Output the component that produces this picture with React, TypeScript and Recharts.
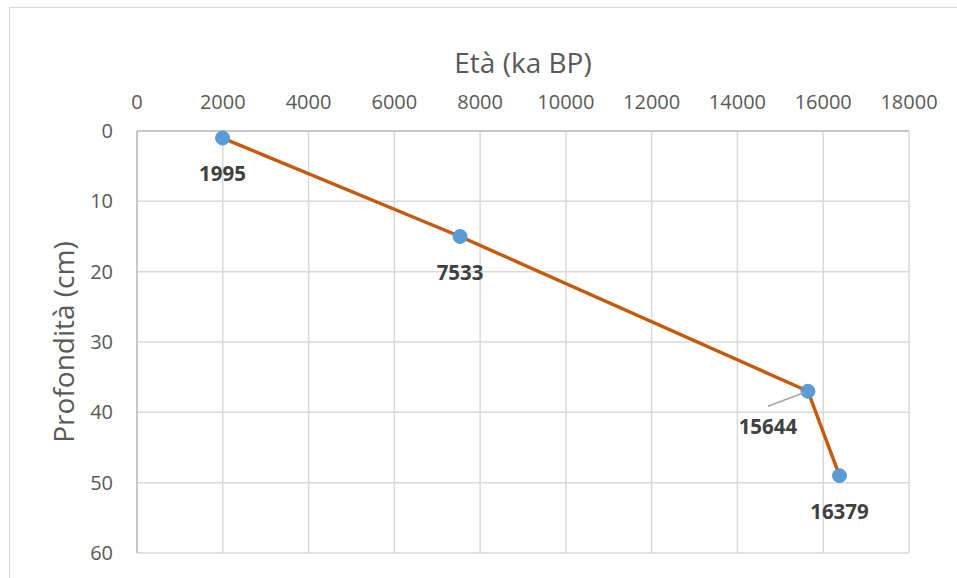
import React from 'react';
import { LineChart, Line, XAxis, YAxis, CartesianGrid, LabelList } from 'recharts';

const ages = [1995, 7533, 15644, 16379];
const depths = [1, 15, 37, 49];
const xTicks = [0, 2000, 4000, 6000, 8000, 10000, 12000, 14000, 16000, 18000];
const yTicks = [0, 10, 20, 30, 40, 50, 60];
const xTitle = 'Età (ka BP)';
const yTitle = 'Profondità (cm)';

const data = ages.map((a, i) => ({ age: a, depth: depths[i] }));

const FONT = '"Open Sans", sans-serif';

const renderLabel = (props: any) => {
  const { x, y, value, index } = props;
  if (index === 2) {
    const lx = x - 40;
    const ly = y + 35;
    return (
      <g>
        <line x1={x - 3} y1={y + 1} x2={x - 40} y2={y + 15} stroke="#A6A6A6" strokeWidth={1.5} />
        <text x={lx} y={ly} textAnchor="middle" dominantBaseline="central" fontFamily={FONT} fontSize={20.5} fontWeight={700} fill="#404040">
          {value}
        </text>
      </g>
    );
  }
  return (
    <text x={x} y={y + 35} textAnchor="middle" dominantBaseline="central" fontFamily={FONT} fontSize={20.5} fontWeight={700} fill="#404040">
      {value}
    </text>
  );
};

export default function App() {
  return (
    <div style={{ position: 'fixed', left: 0, top: 0, width: 957, height: 578, background: '#fff', overflow: 'hidden', fontFamily: FONT }}>
      <div style={{ position: 'absolute', left: 9, top: 7, width: 1000, height: 1000, borderLeft: '1px solid #D9D9D9', borderTop: '1px solid #D9D9D9' }} />
      <LineChart width={957} height={578} data={data} margin={{ top: 81, left: 77, right: 48, bottom: 25 }}>
        <CartesianGrid stroke="#D9D9D9" strokeWidth={1.5} />
        <XAxis
          xAxisId={0}
          orientation="top"
          type="number"
          dataKey="age"
          domain={[0, 18000]}
          ticks={xTicks}
          height={50}
          tickSize={0}
          tickMargin={22}
          tickLine={false}
          axisLine={{ stroke: '#BFBFBF', strokeWidth: 1.5 }}
          tick={{ fill: '#595959', fontSize: 20, fontFamily: FONT }}
          interval={0}
        />
        <YAxis
          yAxisId={0}
          type="number"
          dataKey="depth"
          domain={[0, 60]}
          ticks={yTicks}
          reversed
          width={60}
          tickSize={0}
          tickMargin={24}
          tickLine={false}
          axisLine={{ stroke: '#BFBFBF', strokeWidth: 1.5 }}
          tick={{ fill: '#595959', fontSize: 20, fontFamily: FONT }}
          interval={0}
        />
        <Line
          type="linear"
          dataKey="depth"
          stroke="#C55A11"
          strokeWidth={3.5}
          dot={{ r: 7, fill: '#5B9BD5', stroke: '#5B9BD5', strokeWidth: 1 }}
          activeDot={false}
          isAnimationActive={false}
        >
          <LabelList dataKey="age" content={renderLabel} />
        </Line>
      </LineChart>
      <div style={{ position: 'absolute', left: 323, top: 44, width: 400, textAlign: 'center', fontSize: 28, lineHeight: '36px', color: '#595959' }}>
        {xTitle}
      </div>
      <div style={{ position: 'absolute', left: 63 - 160, top: 342 - 18, width: 320, height: 36, textAlign: 'center', fontSize: 28, lineHeight: '36px', color: '#595959', transform: 'rotate(-90deg)' }}>
        {yTitle}
      </div>
    </div>
  );
}
